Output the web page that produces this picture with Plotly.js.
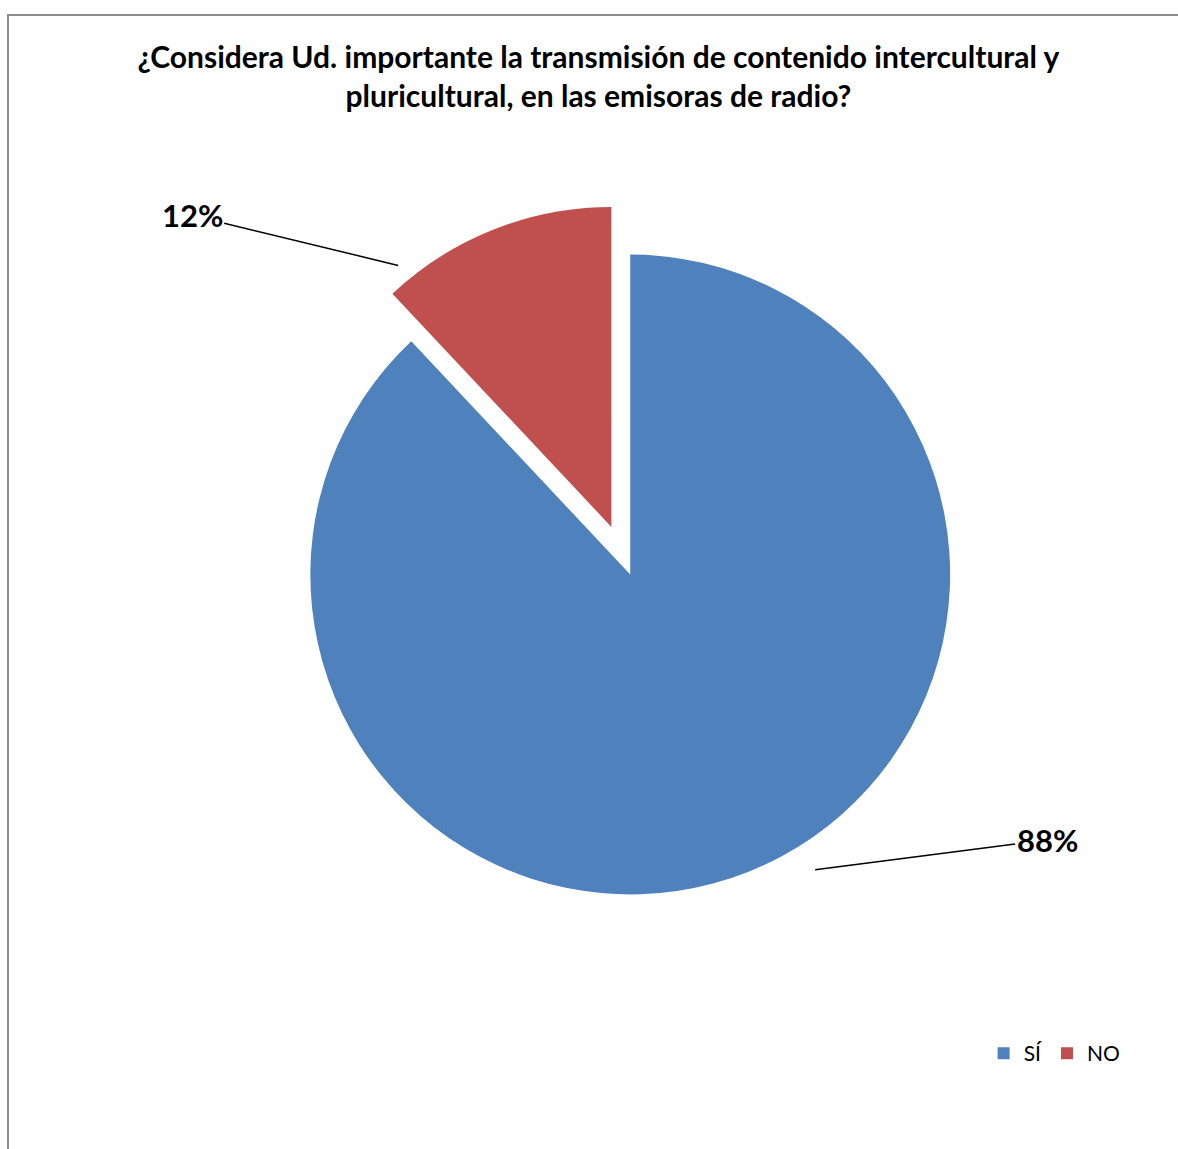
<!DOCTYPE html>
<html>
<head>
<meta charset="utf-8">
<script src="https://cdn.plot.ly/plotly-3.0.1.min.js"></script>
<style>
  html, body { margin: 0; padding: 0; background: #fff; }
  #frame { position: absolute; left: 7px; top: 14px; width: 1171px; height: 1135px;
           border-left: 2px solid #8c8c8c; border-top: 2px solid #8c8c8c; box-sizing: border-box; }
  #chart { position: absolute; left: 0; top: 0; width: 1178px; height: 1149px; }
</style>
</head>
<body>
<div id="frame"></div>
<div id="chart"></div>
<script>
const categories = ["SÍ", "NO"];
const values = [88, 12];
const colors = ["#4F81BD", "#C0504D"];
const titleText = "¿Considera Ud. importante la transmisión de contenido intercultural y<br>pluricultural, en las emisoras de radio?";

const total = values.reduce((a, b) => a + b, 0);
const pctLabels = values.map(v => Math.round(v / total * 100) + "%");

const labelFont = { family: "Lato, 'Noto Sans', sans-serif", size: 31, color: "#000", weight: "bold" };

const trace = {
  type: "pie",
  labels: categories,
  values: values,
  sort: false,
  direction: "clockwise",
  rotation: 0,
  pull: [0, 0.16],
  marker: { colors: colors, line: { width: 0 } },
  textinfo: "none",
  hoverinfo: "label+percent",
  domain: { x: [0.22, 0.85], y: [0.177, 0.823] }
};

// leader-line label placement (label text comes from the data)
const labelPlacement = [
  { x: 0.692, y: 0.243, ax: 232, ay: -30 },   // SÍ
  { x: 0.338, y: 0.769, ax: -206, ay: -50 }   // NO
];
const annotations = pctLabels.map((t, i) => Object.assign({
  xref: "paper", yref: "paper",
  text: t,
  showarrow: true,
  arrowhead: 0,
  arrowwidth: 1.5,
  arrowcolor: "#000",
  standoff: 0,
  font: labelFont
}, labelPlacement[i]));

const layout = {
  width: 1178,
  height: 1149,
  paper_bgcolor: "rgba(0,0,0,0)",
  plot_bgcolor: "rgba(0,0,0,0)",
  margin: { l: 0, r: 0, t: 0, b: 0 },
  title: {
    text: titleText,
    font: { family: "Lato, 'Noto Sans', sans-serif", size: 30, color: "#000", weight: "bold" },
    x: 0.508, xanchor: "center",
    y: 0.941, yanchor: "top"
  },
  annotations: annotations,
  showlegend: true,
  legend: {
    orientation: "h",
    x: 0.835, xanchor: "left",
    y: 0.083, yanchor: "middle",
    font: { family: "Lato, 'Noto Sans', sans-serif", size: 21, color: "#000" },
    itemwidth: 30,
    traceorder: "normal"
  }
};

Plotly.newPlot("chart", [trace], layout, { displayModeBar: false, staticPlot: true });
</script>
</body>
</html>
